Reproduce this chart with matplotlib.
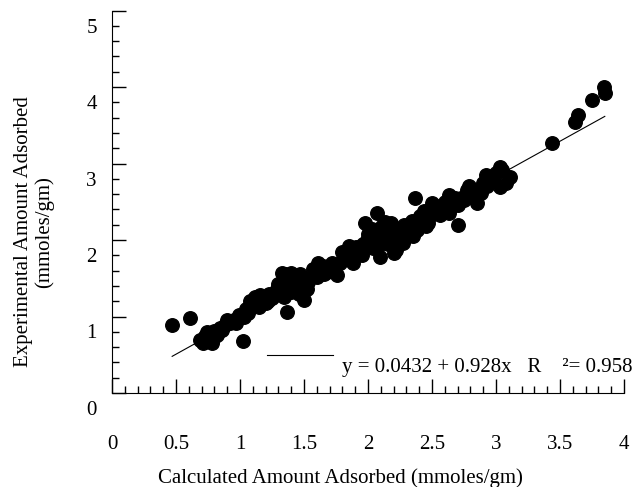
import numpy as np
import matplotlib
matplotlib.use('Agg')
import matplotlib.pyplot as plt
from matplotlib.ticker import MultipleLocator
from matplotlib.transforms import ScaledTranslation

plt.rcParams['font.family'] = ['Liberation Serif', 'DejaVu Serif']

# calculated vs experimental amount adsorbed (mmoles/gm)
calc = [0.47, 0.61, 1.02,
        0.69, 0.71, 0.73, 0.75, 0.77, 0.78, 0.80, 0.82, 0.84, 0.86, 0.88, 0.92, 0.95, 0.97,
        1.03, 1.05, 1.06, 1.08, 1.10, 1.13, 1.15, 1.18, 1.20, 1.23, 1.25, 1.29, 1.31, 1.34,
        1.37, 1.33, 1.35, 1.38, 1.40, 1.43, 1.45, 1.49, 1.52, 1.50, 1.46,
        1.55, 1.58, 1.61, 1.63, 1.66, 1.70, 1.73, 1.76, 1.78, 1.80, 1.83, 1.86, 1.88, 1.91,
        1.93, 1.95, 1.98, 1.99, 2.02, 2.04, 2.05, 2.07, 2.09, 2.10, 2.12, 2.13, 2.15, 2.17,
        2.18, 2.20, 2.22, 2.22, 2.25, 2.27, 2.30, 2.33, 2.35, 2.37, 2.38, 2.40, 2.43, 2.45,
        2.48, 2.50, 2.52, 2.55, 2.58, 2.60, 2.63, 2.63, 2.66, 2.70, 2.70, 2.73, 2.77, 2.80,
        2.82, 2.85, 2.88, 2.90, 2.93, 2.95, 2.98, 3.03, 3.03, 3.05, 3.08, 3.11,
        3.44, 3.62, 3.64, 3.75, 3.84, 3.85,
        1.12, 1.16, 1.22, 1.27, 1.30, 1.36, 1.40, 1.42, 1.47, 1.53, 1.57, 1.60, 1.65, 1.68,
        1.72, 1.85, 1.90, 1.96, 2.00, 2.03, 2.06, 2.08, 2.11, 2.14, 2.16, 2.19, 2.21, 2.24,
        2.28, 2.31, 2.34, 2.41, 2.44, 2.47, 2.53, 2.56, 2.61, 2.68, 2.75, 2.79, 2.86, 2.92,
        3.00, 0.90, 0.99, 0.74, 0.79]
expt = [0.89, 0.98, 0.68,
        0.69, 0.66, 0.75, 0.70, 0.73, 0.66, 0.81, 0.76, 0.85, 0.82, 0.89, 0.91, 0.96, 0.92,
        1.00, 1.10, 1.04, 1.20, 1.14, 1.18, 1.12, 1.22, 1.17, 1.30, 1.24, 1.36, 1.30, 1.25,
        1.06, 1.57, 1.55, 1.50, 1.57, 1.46, 1.40, 1.48, 1.36, 1.22, 1.30,
        1.50, 1.55, 1.70, 1.62, 1.56, 1.62, 1.63, 1.54, 1.70, 1.84, 1.75, 1.80, 1.70, 1.91,
        1.85, 1.80, 2.22, 2.00, 1.95, 1.90, 2.10, 2.35, 1.78, 2.05, 1.98, 2.24, 2.10, 2.13,
        2.22, 1.83, 1.87, 2.04, 2.10, 1.96, 2.12, 2.17, 2.05, 2.55, 2.13, 2.20, 2.26, 2.18,
        2.30, 2.48, 2.35, 2.40, 2.42, 2.50, 2.59, 2.35, 2.45, 2.46, 2.20, 2.55, 2.65, 2.60,
        2.56, 2.48, 2.61, 2.75, 2.70, 2.82, 2.78, 2.69, 2.95, 2.92, 2.75, 2.82,
        3.27, 3.54, 3.63, 3.83, 4.00, 3.92,
        1.25, 1.28, 1.20, 1.28, 1.42, 1.38, 1.32, 1.50, 1.55, 1.45, 1.62, 1.52, 1.66, 1.58,
        1.70, 1.92, 1.82, 1.95, 2.08, 2.15, 2.00, 1.92, 2.18, 2.02, 1.95, 2.08, 2.16, 1.98,
        2.20, 2.05, 2.25, 2.32, 2.38, 2.22, 2.45, 2.33, 2.42, 2.55, 2.52, 2.70, 2.65, 2.85,
        2.88, 0.95, 1.02, 0.80, 0.71]

# linear fit y = a + b x
fit_a, fit_b = 0.0432, 0.928
r2 = 0.958

fig = plt.figure(figsize=(6.36, 4.87), dpi=100)
ax = fig.add_axes([112/636, 94/487, 512/636, 382.5/487])

ax.scatter(calc, expt, s=95, color='black', zorder=3)
xf = np.array([min(calc), max(calc)])
ax.plot(xf, fit_a + fit_b*xf, color='black', lw=0.8)
# legend sample line
ax.plot([1.21, 1.73], [0.50, 0.50], color='black', lw=0.8)
ax.text(1.80, 0.27, 'y = %.4f + %.3fx   R    \u00b2= %.3f' % (fit_a, fit_b, r2),
        fontsize=15, va='baseline', ha='left', clip_on=False)

ax.set_xlim(0, 4)
ax.set_ylim(0, 5)
ax.spines['top'].set_visible(False)
ax.spines['right'].set_visible(False)
ax.xaxis.set_major_locator(MultipleLocator(0.5))
ax.xaxis.set_minor_locator(MultipleLocator(0.1))
ax.yaxis.set_major_locator(MultipleLocator(1))
ax.yaxis.set_minor_locator(MultipleLocator(0.2))
ax.set_xticks([0, 0.5, 1, 1.5, 2, 2.5, 3, 3.5, 4])
ax.set_xticklabels(['0', '0.5', '1', '1.5', '2', '2.5', '3', '3.5', '4'])
ax.tick_params(which='major', direction='in', length=10, width=1, labelsize=15)
ax.tick_params(which='minor', direction='in', length=5, width=1)
ax.tick_params(axis='x', which='major', pad=30)
ax.tick_params(axis='y', which='major', pad=11)
for lab in ax.get_yticklabels():
    lab.set_transform(lab.get_transform() + ScaledTranslation(0, -0.15, fig.dpi_scale_trans))

fig.text(340/636, 1 - 478/487, 'Calculated Amount Adsorbed (mmoles/gm)',
         fontsize=15, ha='center', va='center')
fig.text(34/636, 1 - 232/487, 'Experimental Amount Adsorbed\n(mmoles/gm)',
         fontsize=15, ha='center', va='center', rotation=90, linespacing=1.15)

fig.savefig('out.png', dpi=100)
